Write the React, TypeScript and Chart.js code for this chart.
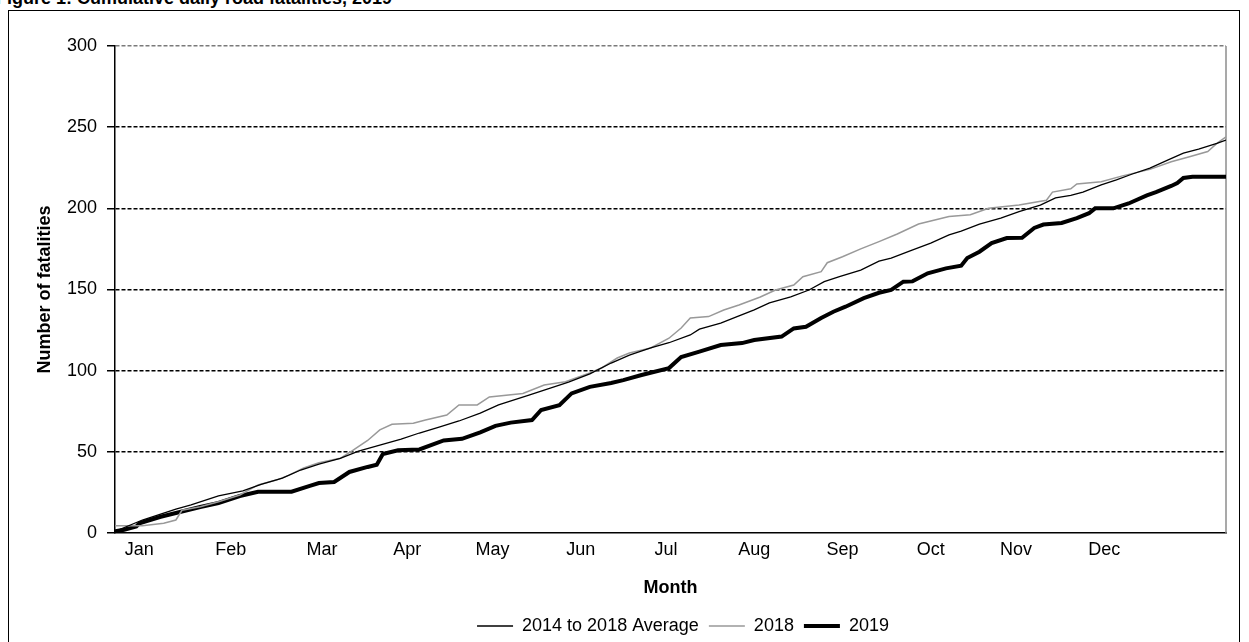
import React, { useEffect, useRef } from 'react';
import { Chart, registerables } from 'chart.js';

Chart.register(...registerables);

const FONT = "'Liberation Sans', Arial, sans-serif";

const titleText = 'Figure 1: Cumulative daily road fatalities, 2019';
const xTitle = 'Month';
const yTitle = 'Number of fatalities';

const monthLabels = ['Jan', 'Feb', 'Mar', 'Apr', 'May', 'Jun', 'Jul', 'Aug', 'Sep', 'Oct', 'Nov', 'Dec'];
const monthTickDays = [8, 38, 68, 96, 124, 153, 181, 210, 239, 268, 296, 325];
const yTickValues = [0, 50, 100, 150, 200, 250, 300];

const seriesNames = ['2014 to 2018 Average', '2018', '2019'];

const avgDays = [0, 9, 20, 25, 34, 42, 48, 55, 61, 67, 74, 80, 87, 94, 100, 107, 113, 120, 126, 136, 143, 149, 156, 163, 169, 176, 182, 189, 192, 199, 205, 210, 215, 222, 228, 233, 238, 245, 251, 255, 261, 268, 274, 278, 284, 291, 297, 304, 309, 314, 318, 324, 329, 334, 340, 346, 351, 356, 362, 365];
const avgValues = [1, 8, 14.7, 17.3, 22.8, 26, 30, 33.8, 38.8, 42.5, 46, 50.5, 54.2, 57.9, 61.6, 65.5, 69, 73.9, 78.9, 85, 89.3, 93, 98, 104.7, 109.6, 114, 117.2, 122, 125.6, 129.3, 133.7, 137.4, 141.7, 145.4, 149.7, 154.8, 157.9, 162, 167.5, 169.4, 173.7, 178.6, 183.6, 186, 190.3, 194, 198, 202, 206.4, 208, 210, 214.4, 217.5, 221, 224.8, 229.8, 234, 236.5, 240, 242];

const days2018 = [0, 9, 16, 20, 22, 28, 34, 41, 47, 53, 57, 62, 67, 74, 78, 83, 87, 91, 98, 102, 109, 113, 119, 123, 134, 141, 148, 156, 160, 165, 169, 176, 182, 186, 189, 195, 200, 205, 212, 217, 223, 226, 232, 234, 239, 245, 251, 257, 264, 274, 281, 287, 297, 306, 308, 314, 316, 324, 331, 340, 347, 353, 359, 362, 365];
const values2018 = [4.5, 4.5, 6, 8, 14, 16.2, 19.3, 23.4, 29.6, 32.6, 35.5, 40, 43.3, 46, 50.7, 57, 63.5, 67, 67.6, 69.6, 72.7, 78.9, 78.9, 83.8, 86, 91.2, 93.2, 98.6, 101.8, 107.8, 110.9, 114, 120, 126.3, 132.4, 133.3, 137.4, 140.5, 145.4, 149.7, 152.8, 157.9, 161, 166.5, 170.2, 175, 179.5, 184.2, 190.3, 194.9, 196, 200, 202, 205, 210, 212, 215, 216.4, 220, 224, 228.7, 231.8, 235, 240, 244];

const days2019 = [0, 3, 7, 8, 15, 20, 28, 34, 41, 47, 58, 64, 67, 72, 77, 83, 86, 88, 93, 100, 108, 114, 120, 125, 130, 137, 140, 146, 150, 156, 163, 167, 173, 182, 186, 192, 199, 206, 210, 219, 223, 227, 232, 236, 240, 246, 251, 255, 259, 262, 267, 273, 278, 280, 284, 288, 293, 298, 302, 305, 311, 316, 320, 322, 328, 333, 339, 342, 347, 349, 351, 354, 365];
const values2019 = [1, 2, 4, 6, 10, 12.3, 16, 18.5, 22.8, 25.4, 25.4, 29, 30.8, 31.4, 37.6, 40.7, 42, 48.7, 51, 51.5, 57, 58, 62, 66, 68, 69.6, 75.8, 78.8, 86, 90, 92.4, 94.2, 97.3, 101.6, 108.4, 111.7, 115.8, 117, 118.9, 121, 126, 127, 132.4, 136.3, 139.4, 144.7, 148, 149.7, 154.8, 155, 160, 163, 164.7, 169.4, 173.3, 178.6, 181.7, 181.9, 187.9, 190, 191, 194, 197, 200, 200, 203, 208, 210, 213.8, 215.6, 218.7, 219.5, 219.5];

const LEG_DX = 70;
const LEG_DY = 3;

export default function App() {
  const ref = useRef<HTMLCanvasElement>(null);

  useEffect(() => {
    if (!ref.current) return;
    const toPts = (d: number[], v: number[]) => d.map((x, i) => ({ x, y: v[i] }));

    const legendShift = {
      id: 'legendShift',
      afterLayout(chart: any) {
        const lg = chart.legend;
        if (lg) {
          lg.left += LEG_DX;
          lg.right += LEG_DX;
          lg.top += LEG_DY;
          lg.bottom += LEG_DY;
        }
      },
    };

    const plotFrame = {
      id: 'plotFrame',
      beforeDatasetsDraw(chart: any) {
        const { ctx, chartArea } = chart;
        ctx.save();
        ctx.strokeStyle = '#8c8c8c';
        ctx.lineWidth = 1.5;
        ctx.beginPath();
        ctx.moveTo(chartArea.right, chartArea.top);
        ctx.lineTo(chartArea.right, chartArea.bottom);
        ctx.stroke();
        ctx.restore();
      },
    };

    const font18 = { family: FONT, size: 18 };
    const bold18 = { family: FONT, size: 18, weight: 'bold' as const };

    const chart = new Chart(ref.current, {
      type: 'line',
      data: {
        datasets: [
          {
            label: seriesNames[0],
            data: toPts(avgDays, avgValues),
            borderColor: '#000000',
            backgroundColor: '#000000',
            borderWidth: 1.3,
            pointRadius: 0,
            tension: 0,
          },
          {
            label: seriesNames[1],
            data: toPts(days2018, values2018),
            borderColor: '#999999',
            backgroundColor: '#999999',
            borderWidth: 1.5,
            pointRadius: 0,
            tension: 0,
          },
          {
            label: seriesNames[2],
            data: toPts(days2019, values2019),
            borderColor: '#000000',
            backgroundColor: '#000000',
            borderWidth: 4,
            pointRadius: 0,
            tension: 0,
          },
        ],
      },
      options: {
        responsive: false,
        animation: false,
        devicePixelRatio: 1,
        layout: { padding: { top: 46, left: 0, right: 23, bottom: 0 } },
        plugins: {
          title: { display: false },
          tooltip: { enabled: false },
          legend: {
            display: true,
            position: 'bottom',
            labels: {
              usePointStyle: true,
              pointStyle: 'line',
              pointStyleWidth: 36,
              boxHeight: 18,
              padding: 10,
              font: font18,
              color: '#000000',
            },
          },
        },
        scales: {
          x: {
            type: 'linear',
            min: 0,
            max: 365,
            bounds: 'data',
            afterBuildTicks: (s: any) => {
              s.ticks = monthTickDays.map((v) => ({ value: v }));
            },
            afterFit: (s: any) => {
              s.height = 71;
            },
            ticks: {
              autoSkip: false,
              maxRotation: 0,
              minRotation: 0,
              padding: 6,
              font: font18,
              color: '#000000',
              callback: (_v: any, i: number) => monthLabels[i],
            },
            grid: { display: false, drawTicks: false },
            border: { display: true, color: '#000000', width: 1.5 },
            title: {
              display: true,
              text: xTitle,
              font: bold18,
              color: '#000000',
              padding: { top: 0, bottom: 5 },
            },
          },
          y: {
            type: 'linear',
            min: 0,
            max: 300,
            bounds: 'data',
            afterBuildTicks: (s: any) => {
              s.ticks = yTickValues.map((v) => ({ value: v }));
            },
            afterFit: (s: any) => {
              s.width = 115;
            },
            ticks: {
              padding: 10,
              font: font18,
              color: '#000000',
            },
            grid: {
              color: (c: any) =>
                c.tick && c.tick.value === 300
                  ? '#7a7a7a'
                  : c.tick && c.tick.value === 0
                  ? 'rgba(0,0,0,0)'
                  : '#000000',
              lineWidth: 1.5,
              tickColor: '#000000',
              tickLength: 8,
              tickWidth: 1.5,
              tickBorderDash: [],
            },
            border: { display: true, color: '#000000', width: 1.5, dash: [4, 2] },
            title: {
              display: true,
              text: yTitle,
              font: bold18,
              color: '#000000',
              padding: { top: 34, bottom: 0 },
            },
          },
        },
      },
      plugins: [legendShift, plotFrame],
    });

    return () => chart.destroy();
  }, []);

  return (
    <div
      style={{
        position: 'fixed',
        left: 0,
        top: 0,
        width: 1249,
        height: 642,
        overflow: 'hidden',
        background: '#ffffff',
      }}
    >
      <div
        style={{
          position: 'absolute',
          left: -4,
          top: -12,
          whiteSpace: 'nowrap',
          fontFamily: FONT,
          fontWeight: 'bold',
          fontSize: 18,
          color: '#000',
        }}
      >
        {titleText}
      </div>
      <div
        style={{
          position: 'absolute',
          left: 8,
          top: 10,
          width: 1232,
          height: 700,
          border: '1px solid #000',
          boxSizing: 'border-box',
        }}
      />
      <canvas
        ref={ref}
        width={1249}
        height={642}
        style={{ position: 'absolute', left: 0, top: 0, width: 1249, height: 642 }}
      />
    </div>
  );
}
